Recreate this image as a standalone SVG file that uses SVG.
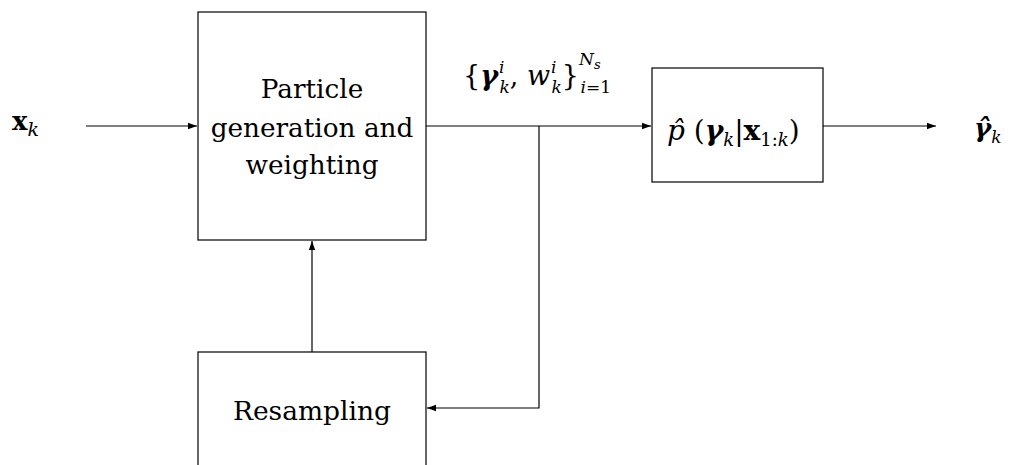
<svg xmlns="http://www.w3.org/2000/svg" width="1013" height="465" viewBox="0 0 1013 465">
<style>
.box{fill:#fff;stroke:#000;stroke-width:1.2}
.ln{fill:none;stroke:#000;stroke-width:1.2}
.s{font-family:"DejaVu Serif",serif}
.it{font-style:italic}
.b{font-weight:bold}
</style>
<defs>
<marker id="ah" viewBox="0 0 10 10" refX="10" refY="5" markerWidth="9" markerHeight="9" markerUnits="userSpaceOnUse" orient="auto">
<path d="M0,1.5 L10,5 L0,8.5 Z" fill="#000"/>
</marker>
</defs>
<g id="connectors">
<line class="ln" x1="86" y1="126" x2="197" y2="126" marker-end="url(#ah)"/>
<line class="ln" x1="426" y1="126" x2="651" y2="126" marker-end="url(#ah)"/>
<line class="ln" x1="823" y1="126" x2="936" y2="126" marker-end="url(#ah)"/>
<polyline class="ln" points="539,126 539,408 427,408" marker-end="url(#ah)"/>
<line class="ln" x1="312" y1="352" x2="312" y2="241" marker-end="url(#ah)"/>
</g>
<g id="input-label" class="s" font-size="26">
<text x="12" y="130"><tspan class="b">x</tspan><tspan class="it" font-size="19" dy="6">k</tspan></text>
</g>
<g id="particle-generation" class="s" font-size="26.3">
<rect class="box" x="198" y="12" width="228" height="228"/>
<text text-anchor="middle" x="312" y="98">Particle</text>
<text text-anchor="middle" x="312" y="137">generation and</text>
<text text-anchor="middle" x="312" y="174">weighting</text>
</g>
<g id="resampling" class="s" font-size="26.5">
<rect class="box" x="198" y="352" width="228" height="228"/>
<text text-anchor="middle" x="312" y="420">Resampling</text>
</g>
<g id="particles-label" class="s" font-size="27">
<text x="463" y="85">{<tspan class="it b">γ</tspan><tspan class="it" font-size="17" dx="1" dy="-12">i</tspan><tspan class="it" font-size="17" dx="-5" dy="20">k</tspan><tspan dy="-8">, </tspan><tspan class="it">w</tspan><tspan class="it" font-size="17" dx="1" dy="-12">i</tspan><tspan class="it" font-size="17" dx="-5" dy="20">k</tspan><tspan dy="-8">}</tspan><tspan class="it" font-size="17" dy="-20">N</tspan><tspan class="it" font-size="13" dy="4">s</tspan><tspan class="it" font-size="17" dx="-20" dy="24">i</tspan><tspan font-size="17">=1</tspan></text>
</g>
<g id="posterior" class="s" font-size="28">
<rect class="box" x="652" y="68" width="171" height="114"/>
<text x="667" y="140"><tspan class="it">p̂</tspan> (<tspan class="it b">γ</tspan><tspan class="it" font-size="18" dy="6">k</tspan><tspan dy="-6">|</tspan><tspan class="b">x</tspan><tspan font-size="18" dy="6">1:</tspan><tspan class="it" font-size="18">k</tspan><tspan dy="-6">)</tspan></text>
</g>
<g id="output-label" class="s" font-size="26">
<text x="974" y="137"><tspan class="it b">γ̂</tspan><tspan class="it" font-size="17" dy="6">k</tspan></text>
</g>
</svg>
